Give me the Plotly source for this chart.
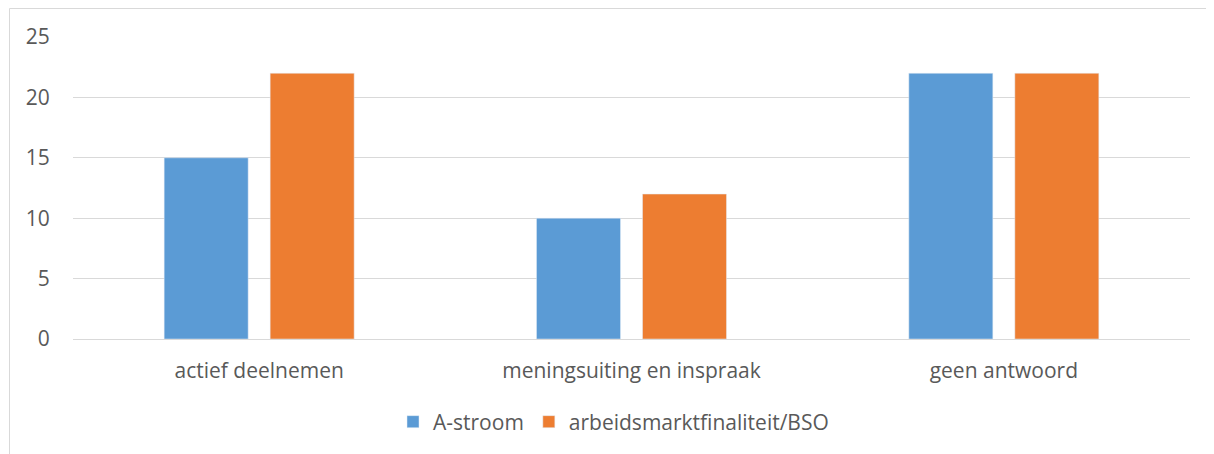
import plotly.graph_objects as go

categories = ["actief deelnemen", "meningsuiting en inspraak", "geen antwoord"]
a_stroom = [15, 10, 22]
bso = [22, 12, 22]
y_ticks = [0, 5, 10, 15, 20, 25]

font = "Open Sans, Lato, sans-serif"

# page body has an 8px margin, so the figure is sized to fit inside the window
W, H = 1206, 446
L, R, T, B = 65, 24, 29, 115
pw, ph = W - L - R, H - T - B

fig = go.Figure()
fig.add_trace(go.Bar(x=categories, y=a_stroom, name="A-stroom", marker_color="#5B9BD5"))
fig.add_trace(go.Bar(x=categories, y=bso, name="arbeidsmarktfinaliteit/BSO", marker_color="#ED7D31"))

fig.update_layout(
    width=W, height=H,
    margin=dict(l=L, r=R, t=T, b=B),
    paper_bgcolor="white", plot_bgcolor="white",
    barmode="group", bargap=0.4306, bargroupgap=0.2075,
    font=dict(family=font, size=21, color="#595959"),
    legend=dict(orientation="h", x=0.5 - 18 / pw, xanchor="center", y=(331 - 414) / ph,
                yanchor="middle", font=dict(size=21, color="#595959"), itemwidth=30,
                traceorder="normal"),
    showlegend=True,
)
fig.update_yaxes(range=[0, 25], tickvals=y_ticks, showgrid=True, gridcolor="#D9D9D9",
                 gridwidth=1, zeroline=False, showline=False, ticks="outside",
                 ticklen=18, tickcolor="rgba(0,0,0,0)")
fig.update_xaxes(showgrid=False, showline=True, linecolor="#D9D9D9", linewidth=1,
                 ticks="outside", ticklen=13, tickcolor="rgba(0,0,0,0)")

# chart area border (Excel style), extends past the right/bottom edge
fig.add_shape(type="rect", xref="paper", yref="paper",
              x0=-(L - 1.5) / pw, x1=1.1, y0=-0.6, y1=1 + (T - 0.5) / ph,
              line=dict(color="#D9D9D9", width=1), fillcolor="rgba(0,0,0,0)", layer="below")

fig.write_html("out.html")
